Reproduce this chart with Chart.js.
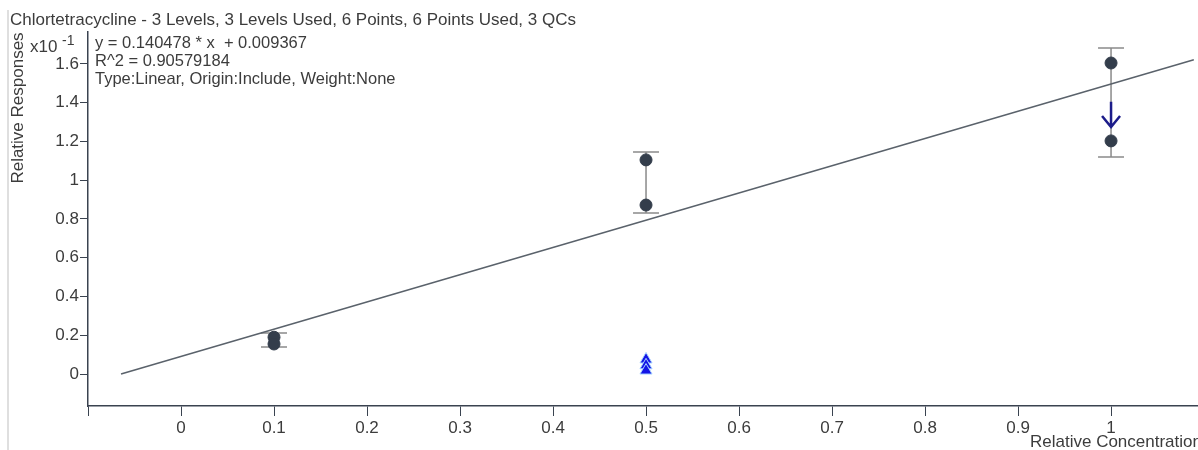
<!DOCTYPE html>
<html lang="en">
  <head>
    <style>
      body { margin: 0; background: #fff; }
      #wrap { width: 1198px; height: 450px; }
    </style>
  </head>
  <body>
    <div id="wrap"><canvas id="myChart" width="1198" height="450"></canvas></div>

    <script src="https://cdn.jsdelivr.net/npm/chart.js@4.4.1/dist/chart.umd.min.js"></script>
    <script>
      // values are in units of x10^-1
      var title = "Chlortetracycline - 3 Levels, 3 Levels Used, 6 Points, 6 Points Used, 3 QCs";
      var infoLines = [
        "y = 0.140478 * x  + 0.009367",
        "R^2 = 0.90579184",
        "Type:Linear, Origin:Include, Weight:None",
      ];

      var stdX = [0.1, 0.1, 0.5, 0.5, 1, 1];
      var stdY = [0.19, 0.155, 1.105, 0.872, 1.605, 1.203];

      var qcX = [0.5, 0.5, 0.5];
      var qcY = [0.075, 0.045, 0.018];

      // error bars: level, low, high
      var barX = [0.1, 0.5, 1];
      var barLow = [0.14, 0.831, 1.12];
      var barHigh = [0.212, 1.146, 1.683];

      // arrow on level 1 (from, to)
      var arrowX = 1;
      var arrowFrom = 1.405;
      var arrowTo = 1.275;

      // regression line ends
      var fitX = [-0.0645, 1.089];
      var fitY = [0, 1.622];

      var xTicks = [-0.1, 0, 0.1, 0.2, 0.3, 0.4, 0.5, 0.6, 0.7, 0.8, 0.9, 1];
      var yTicks = [0, 0.2, 0.4, 0.6, 0.8, 1, 1.2, 1.4, 1.6];

      var FONT = "'Liberation Sans', Arial, sans-serif";
      var TXT = "#3c3c3c";

      function pts(xs, ys) {
        return xs.map(function (x, i) { return { x: x, y: ys[i] }; });
      }

      var extras = {
        id: "extras",
        beforeDatasetsDraw: function (chart) {
          var ctx = chart.ctx;
          var xs = chart.scales.x, ys = chart.scales.y;
          ctx.save();
          ctx.strokeStyle = "#8a8a8a";
          ctx.lineWidth = 1.5;
          for (var i = 0; i < barX.length; i++) {
            var px = xs.getPixelForValue(barX[i]);
            var lo = ys.getPixelForValue(barLow[i]);
            var hi = ys.getPixelForValue(barHigh[i]);
            ctx.beginPath();
            ctx.moveTo(px, lo); ctx.lineTo(px, hi);
            ctx.moveTo(px - 13, lo); ctx.lineTo(px + 13, lo);
            ctx.moveTo(px - 13, hi); ctx.lineTo(px + 13, hi);
            ctx.stroke();
          }
          ctx.restore();
        },
        afterDatasetsDraw: function (chart) {
          var ctx = chart.ctx;
          var xs = chart.scales.x, ys = chart.scales.y;
          ctx.save();
          // arrow
          var ax = xs.getPixelForValue(arrowX);
          var a0 = ys.getPixelForValue(arrowFrom);
          var a1 = ys.getPixelForValue(arrowTo);
          ctx.strokeStyle = "#1c1c8a";
          ctx.lineWidth = 2.5;
          ctx.beginPath();
          ctx.moveTo(ax, a0); ctx.lineTo(ax, a1);
          ctx.moveTo(ax - 9, a1 - 11); ctx.lineTo(ax, a1); ctx.lineTo(ax + 9, a1 - 11);
          ctx.stroke();

          // left frame line
          ctx.strokeStyle = "#d4d4d4";
          ctx.lineWidth = 1.5;
          ctx.beginPath();
          ctx.moveTo(8, 10); ctx.lineTo(8, 450);
          ctx.stroke();

          ctx.fillStyle = TXT;
          ctx.textBaseline = "middle";
          ctx.textAlign = "left";
          ctx.font = "17px " + FONT;
          ctx.fillText(title, 10, 20);
          ctx.font = "16.5px " + FONT;
          infoLines.forEach(function (t, i) {
            ctx.fillText(t, 95, 43 + i * 18);
          });
          ctx.font = "17px " + FONT;
          ctx.fillText("x10", 30, 47);
          ctx.font = "14px " + FONT;
          ctx.fillText("-1", 62, 41);

          ctx.font = "17px " + FONT;
          ctx.fillText("Relative Concentration", 1030, 442);
          ctx.save();
          ctx.translate(18, 108);
          ctx.rotate(-Math.PI / 2);
          ctx.textAlign = "center";
          ctx.fillText("Relative Responses", 0, 0);
          ctx.restore();
          ctx.restore();
        },
      };

      new Chart(document.getElementById("myChart"), {
        type: "scatter",
        data: {
          datasets: [
            {
              type: "line",
              label: "Fit",
              data: pts(fitX, fitY),
              borderColor: "#5a626b",
              borderWidth: 1.5,
              pointRadius: 0,
              order: 3,
            },
            {
              label: "Standards",
              data: pts(stdX, stdY),
              backgroundColor: "#333d4b",
              borderColor: "#333d4b",
              pointStyle: "circle",
              pointRadius: 6,
              order: 2,
            },
            {
              label: "QCs",
              data: pts(qcX, qcY),
              backgroundColor: "#1414e6",
              borderColor: "#a8d4ff",
              borderWidth: 1,
              pointStyle: "triangle",
              pointRadius: 7,
              order: 1,
            },
          ],
        },
        options: {
          responsive: false,
          animation: false,
          layout: { autoPadding: false, padding: { top: 32, left: 0, right: 0, bottom: 0 } },
          plugins: {
            legend: { display: false },
            tooltip: { enabled: false },
          },
          scales: {
            x: {
              type: "linear",
              min: -0.1,
              max: 1.0935,
              afterBuildTicks: function (axis) {
                axis.ticks = xTicks.map(function (v) { return { value: v }; });
              },
              afterFit: function (axis) {
                axis.height = 44;
                axis.paddingLeft = 0;
                axis.paddingRight = 0;
              },
              grid: { drawOnChartArea: false, drawTicks: true, tickLength: 10, color: "#3a4350" },
              border: { color: "#3a4350", width: 1.5 },
              ticks: {
                padding: 2,
                color: TXT,
                font: { family: FONT, size: 17 },
                maxRotation: 0,
                callback: function (v) { return v < 0 ? "" : String(v); },
              },
            },
            y: {
              type: "linear",
              min: -0.165,
              max: 1.765,
              afterBuildTicks: function (axis) {
                axis.ticks = yTicks.map(function (v) { return { value: v }; });
              },
              afterFit: function (axis) {
                axis.width = 88;
                axis.paddingTop = 0;
                axis.paddingBottom = 0;
              },
              grid: { drawOnChartArea: false, drawTicks: true, tickLength: 8, color: "#3a4350" },
              border: { color: "#3a4350", width: 1.5 },
              ticks: {
                padding: 1,
                color: TXT,
                font: { family: FONT, size: 17 },
                callback: function (v) { return String(v); },
              },
            },
          },
        },
        plugins: [extras],
      });
    </script>
  </body>
</html>
